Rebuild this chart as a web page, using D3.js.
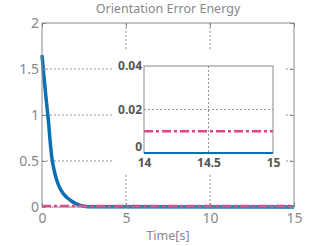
<!DOCTYPE html>
<html>
<head>
<meta charset="utf-8">
<script src="https://cdn.jsdelivr.net/npm/d3@7"></script>
<style>
body { margin: 0; background: #fff; }
svg { display: block; }
text { font-family: "Noto Sans", "DejaVu Sans", sans-serif; }
</style>
</head>
<body>
<svg width="327" height="246"></svg>
<script>
// energy curve
var time = [0, 0.1, 0.2, 0.3, 0.4, 0.5, 0.6, 0.7, 0.8, 1.0, 1.25, 1.5, 1.75, 2.0, 2.25, 2.5, 3.0, 15];
var energy = [1.65, 1.45, 1.26, 1.08, 0.9, 0.68, 0.52, 0.42, 0.34, 0.23, 0.15, 0.1, 0.065, 0.038, 0.02, 0.008, 0.002, 0];
var refTime = [0, 15];
var refValue = [0.01, 0.01];
var xTicks = [0, 5, 10, 15];
var yTicks = [0, 0.5, 1, 1.5, 2];
var insetXTicks = [14, 14.5, 15];
var insetYTicks = [0, 0.02, 0.04];

var blue = "#0b6fb3", pink = "#e6438f", frame = "#8a8a8a", labelCol = "#888";

var svg = d3.select("svg");

var x = d3.scaleLinear().domain([0, 15]).range([42, 294]);
var y = d3.scaleLinear().domain([0, 2]).range([207, 23]);

var series = time.map(function(t, i) { return [t, energy[i]]; });
var ref = refTime.map(function(t, i) { return [t, refValue[i]]; });

// grid
svg.append("g").selectAll("line").data(xTicks.slice(1, -1)).enter().append("line")
    .attr("x1", x).attr("x2", x).attr("y1", y(2)).attr("y2", y(0))
    .attr("stroke", "#777").attr("stroke-width", 0.8).attr("stroke-dasharray", "2,2");
svg.append("g").selectAll("line").data(yTicks.slice(1, -1)).enter().append("line")
    .attr("x1", x(0)).attr("x2", x(15)).attr("y1", y).attr("y2", y)
    .attr("stroke", "#777").attr("stroke-width", 0.8).attr("stroke-dasharray", "2,2");

var line = d3.line()
    .x(function(d) { return x(d[0]); })
    .y(function(d) { return y(d[1]); })
    .curve(d3.curveMonotoneX);

svg.append("path").datum(series).attr("d", line)
    .attr("fill", "none").attr("stroke", blue).attr("stroke-width", 3.5);
svg.append("path").datum(ref).attr("d", line)
    .attr("fill", "none").attr("stroke", pink).attr("stroke-width", 2.5)
    .attr("stroke-dasharray", "9,3,3,3");

// frame and ticks
svg.append("rect").attr("x", x(0)).attr("y", y(2))
    .attr("width", x(15) - x(0)).attr("height", y(0) - y(2))
    .attr("fill", "none").attr("stroke", frame).attr("stroke-width", 1);

var ax = svg.append("g").attr("transform", "translate(0," + y(0) + ")")
    .call(d3.axisBottom(x).tickValues(xTicks).tickSize(-4).tickPadding(6).tickFormat(d3.format("d")));
var ay = svg.append("g").attr("transform", "translate(" + x(0) + ",0)")
    .call(d3.axisLeft(y).tickValues(yTicks).tickSize(-4).tickPadding(3).tickFormat(function(d) { return String(d); }));
var ar = svg.append("g").attr("transform", "translate(" + x(15) + ",0)")
    .call(d3.axisRight(y).tickValues(yTicks).tickSize(-4).tickFormat(""));
var at = svg.append("g").attr("transform", "translate(0," + y(2) + ")")
    .call(d3.axisTop(x).tickValues(xTicks).tickSize(-4).tickFormat(""));
[ax, ay, ar, at].forEach(function(g) {
    g.select(".domain").remove();
    g.selectAll("line").attr("stroke", frame);
    g.selectAll("text").attr("fill", labelCol).style("font-size", "14px").style("font-family", "'Noto Sans', sans-serif");
});

svg.append("text").attr("x", 168).attr("y", 13).attr("text-anchor", "middle")
    .attr("fill", labelCol).style("font-size", "12.5px").text("Orientation Error Energy");
svg.append("text").attr("x", 168).attr("y", 240).attr("text-anchor", "middle")
    .attr("fill", labelCol).style("font-size", "12.5px").text("Time[s]");

// inset
svg.append("rect").attr("x", 113).attr("y", 50).attr("width", 172).attr("height", 123).attr("fill", "#fff");

var ix = d3.scaleLinear().domain([14, 15]).range([144, 273]);
var iy = d3.scaleLinear().domain([0, 0.04]).range([153, 66]);
var iline = d3.line()
    .x(function(d) { return ix(d[0]); })
    .y(function(d) { return iy(d[1]); });

svg.append("line").attr("x1", ix(14.5)).attr("x2", ix(14.5)).attr("y1", iy(0.04)).attr("y2", iy(0))
    .attr("stroke", "#777").attr("stroke-width", 0.8).attr("stroke-dasharray", "2,2");
svg.append("line").attr("x1", ix(14)).attr("x2", ix(15)).attr("y1", iy(0.02)).attr("y2", iy(0.02))
    .attr("stroke", "#777").attr("stroke-width", 0.8).attr("stroke-dasharray", "2,2");

svg.append("path").datum(ref.map(function(d) { return [Math.max(14, d[0]), d[1]]; })).attr("d", iline)
    .attr("fill", "none").attr("stroke", pink).attr("stroke-width", 2.5)
    .attr("stroke-dasharray", "9,3,3,3");

svg.append("rect").attr("x", ix(14)).attr("y", iy(0.04))
    .attr("width", ix(15) - ix(14)).attr("height", iy(0) - iy(0.04))
    .attr("fill", "none").attr("stroke", frame).attr("stroke-width", 1);

svg.append("path").datum(series.filter(function(d) { return d[0] >= 14; }).concat([[14, 0]]).sort(function(a, b) { return a[0] - b[0]; }))
    .attr("d", iline).attr("fill", "none").attr("stroke", blue).attr("stroke-width", 2);

var iax = svg.append("g").attr("transform", "translate(0," + iy(0) + ")")
    .call(d3.axisBottom(ix).tickValues(insetXTicks).tickSize(0).tickPadding(4).tickFormat(function(d) { return String(d); }));
var iay = svg.append("g").attr("transform", "translate(" + ix(14) + ",0)")
    .call(d3.axisLeft(iy).tickValues(insetYTicks).tickSize(0).tickPadding(2).tickFormat(function(d) { return String(d); }));
[iax, iay].forEach(function(g) {
    g.select(".domain").remove();
    g.selectAll("text").attr("fill", "#555").style("font-size", "12px")
        .style("font-weight", "bold").style("font-family", "'Noto Sans', sans-serif");
});
iax.selectAll("text").attr("dy", "0.85em");
iay.selectAll("text").attr("dy", "0.32em");
// the 0 label sits just above the 14 label
iay.selectAll("text").filter(function(d) { return d === 0; }).attr("dy", "-0.2em");
</script>
</body>
</html>
